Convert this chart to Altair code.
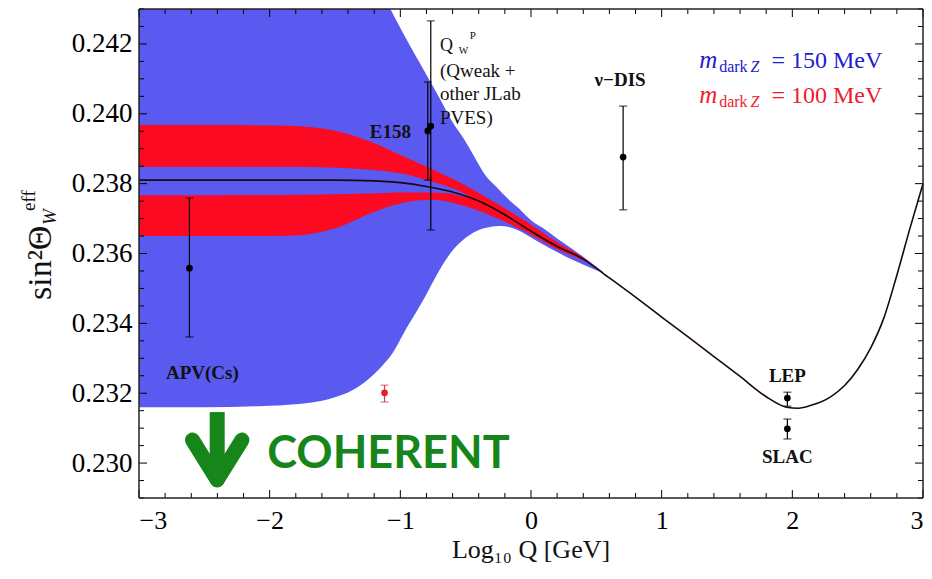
import altair as alt
import pandas as pd

# ---------------- data ----------------
# central (SM-like) running curve
line_x = [-3.0, -2.0, -1.5, -1.2, -1.0, -0.8, -0.6, -0.4, -0.2, 0.0, 0.2, 0.4, 0.6, 0.8,
          1.0, 1.2, 1.4, 1.6, 1.8, 1.955, 2.045, 2.15, 2.29, 2.40, 2.50, 2.60, 2.70, 2.80, 2.90, 3.0]
line_y = [0.23810, 0.23810, 0.23810, 0.23808, 0.23803, 0.23792, 0.23776, 0.23750, 0.23711,
          0.23664, 0.23620, 0.23584, 0.23530, 0.23475, 0.23418, 0.23362, 0.23305, 0.23248,
          0.23190, 0.23160, 0.23157, 0.23166, 0.23189, 0.23222, 0.23268, 0.23330, 0.23415,
          0.23538, 0.23672, 0.23800]

# m_darkZ = 150 MeV band (blue)
blue_x = [-3.0, -2.5, -2.08, -1.78, -1.55, -1.35, -1.30, -1.20, -1.10, -1.076, -0.95, -0.82,
          -0.70, -0.61, -0.50, -0.42, -0.36, -0.25, -0.20, -0.09, 0.0, 0.11, 0.2, 0.3, 0.42, 0.5, 0.55]
blue_hi = [0.2460, 0.2460, 0.2460, 0.2460, 0.2460, 0.2458, 0.2452, 0.2441, 0.24318, 0.24300,
           0.24211, 0.24125, 0.24045, 0.23982, 0.23920, 0.23868, 0.23830, 0.23785, 0.23765,
           0.23728, 0.23695, 0.23668, 0.23643, 0.23617, 0.23585, 0.23562, 0.23548]
blue_lo = [0.23160, 0.23160, 0.23163, 0.23169, 0.23183, 0.23212, 0.23224, 0.23255, 0.23295,
           0.23306, 0.23388, 0.23470, 0.23553, 0.23604, 0.23645, 0.23664, 0.23672, 0.23679,
           0.23678, 0.23665, 0.23646, 0.23622, 0.23604, 0.23585, 0.23565, 0.23552, 0.23545]

# m_darkZ = 100 MeV band (red), outer envelope
red_x = [-3.0, -2.5, -1.86, -1.49, -1.24, -0.98, -0.76, -0.5, -0.27, -0.04, 0.2, 0.4, 0.46]
red_hi = [0.23968, 0.23968, 0.23966, 0.23951, 0.23922, 0.23879, 0.23842, 0.23795, 0.23745,
          0.23692, 0.23632, 0.23588, 0.23570]
red_lo = [0.23650, 0.23650, 0.23651, 0.23673, 0.23713, 0.23745, 0.23754, 0.23735, 0.23702,
          0.23662, 0.23612, 0.23580, 0.23568]

# gap between the two red branches
gap_x = [-3.0, -2.5, -1.74, -1.24, -0.98, -0.78, -0.62, -0.576, -0.45]
gap_hi = [0.23848, 0.23848, 0.23848, 0.23840, 0.23828, 0.23808, 0.23790, 0.23784, 0.23758]
gap_lo = [0.23767, 0.23767, 0.23768, 0.23772, 0.23775, 0.23775, 0.23772, 0.23768, 0.23758]

# measurements
meas_name = ["APV(Cs)", "E158", "Qweak", "nu-DIS", "LEP", "SLAC"]
meas_x = [-2.614, -0.79, -0.767, 0.705, 1.962, 1.962]
meas_y = [0.23558, 0.23951, 0.23965, 0.23876, 0.23186, 0.23098]
meas_lo = [0.23361, 0.23810, 0.23667, 0.23725, 0.23163, 0.23069]
meas_hi = [0.23759, 0.24091, 0.24266, 0.24022, 0.23203, 0.23126]

coh_x = [-1.121]
coh_y = [0.23201]
coh_lo = [0.23175]
coh_hi = [0.23223]

# axis ticks
x_major = [-3, -2, -1, 0, 1, 2, 3]
y_major = [0.230, 0.232, 0.234, 0.236, 0.238, 0.240, 0.242]

# ---------------- styling ----------------
BLUE = "#5a5af0"
RED = "#fc0a22"
SERIF = "Liberation Serif"
XD = [-3, 3]
YD = [0.229, 0.243]
W, H = 784, 489

xs = alt.Scale(domain=XD, nice=False, zero=False)
ys = alt.Scale(domain=YD, nice=False, zero=False)

xaxis = alt.Axis(values=x_major, format="d", ticks=False, domain=False, grid=False,
                 labelFont=SERIF, labelFontSize=26, labelColor="black", labelPadding=9,
                 title=None)
yaxis = alt.Axis(values=y_major, format=".3f", ticks=False, domain=False, grid=False,
                 labelFont=SERIF, labelFontSize=27, labelColor="black", labelPadding=7,
                 title=None)


def X(f):
    return alt.X(f, type="quantitative", scale=xs, axis=xaxis)


def Y(f):
    return alt.Y(f, type="quantitative", scale=ys, axis=yaxis)


df_line = pd.DataFrame({"x": line_x, "y": line_y})
df_blue = pd.DataFrame({"x": blue_x, "hi": blue_hi, "lo": blue_lo})
df_red = pd.DataFrame({"x": red_x, "hi": red_hi, "lo": red_lo})
df_gap = pd.DataFrame({"x": gap_x, "hi": gap_hi, "lo": gap_lo})
df_meas = pd.DataFrame({"name": meas_name, "x": meas_x, "y": meas_y, "lo": meas_lo, "hi": meas_hi})
df_coh = pd.DataFrame({"x": coh_x, "y": coh_y, "lo": coh_lo, "hi": coh_hi})

blue = alt.Chart(df_blue).mark_area(color=BLUE, clip=True, interpolate="monotone").encode(
    x=X("x"), y=Y("hi"), y2=alt.Y2("lo"))
red = alt.Chart(df_red).mark_area(color=RED, clip=True, interpolate="monotone").encode(
    x=X("x"), y=Y("hi"), y2=alt.Y2("lo"))
gap = alt.Chart(df_gap).mark_area(color=BLUE, clip=True, interpolate="monotone").encode(
    x=X("x"), y=Y("hi"), y2=alt.Y2("lo"))
line = alt.Chart(df_line).mark_line(color="#1a0810", strokeWidth=1.6, interpolate="monotone").encode(
    x=X("x"), y=Y("y"))

# inward ticks on all four sides (lengths in data units)
ypx = (YD[1] - YD[0]) / H
xpx = (XD[1] - XD[0]) / W
x_minor = [round(-3 + 0.2 * i, 1) for i in range(31) if i % 5]
y_minor = [round(0.229 + 0.0005 * i, 4) for i in range(29) if round(0.229 + 0.0005 * i, 4) not in y_major]
tick_rows_x = []
for t in x_major + x_minor:
    L = 8 if t in x_major else 5
    tick_rows_x.append({"x": t, "y": YD[0], "y2": YD[0] + L * ypx})
    tick_rows_x.append({"x": t, "y": YD[1], "y2": YD[1] - L * ypx})
tick_rows_y = []
for t in y_major + y_minor:
    L = 8 if t in y_major else 5
    tick_rows_y.append({"y": t, "x": XD[0], "x2": XD[0] + L * xpx})
    tick_rows_y.append({"y": t, "x": XD[1], "x2": XD[1] - L * xpx})
ticks_x = alt.Chart(pd.DataFrame(tick_rows_x)).mark_rule(color="black", strokeWidth=1).encode(
    x=X("x"), y=Y("y"), y2=alt.Y2("y2"))
ticks_y = alt.Chart(pd.DataFrame(tick_rows_y)).mark_rule(color="black", strokeWidth=1).encode(
    y=Y("y"), x=X("x"), x2=alt.X2("x2"))

frame_v = alt.Chart(pd.DataFrame({"x": XD})).mark_rule(color="#222", strokeWidth=1.5).encode(
    x=X("x"), y=alt.value(0), y2=alt.value(H))
frame_h = alt.Chart(pd.DataFrame({"y": YD})).mark_rule(color="#222", strokeWidth=1.5).encode(
    y=Y("y"), x=alt.value(0), x2=alt.value(W))

bars = alt.Chart(df_meas).mark_rule(color="black", strokeWidth=1.2).encode(
    x=X("x"), y=Y("lo"), y2=alt.Y2("hi"))
cap_lo = alt.Chart(df_meas).mark_tick(color="black", size=8, thickness=1.2, orient="horizontal").encode(
    x=X("x"), y=Y("lo"))
cap_hi = alt.Chart(df_meas).mark_tick(color="black", size=8, thickness=1.2, orient="horizontal").encode(
    x=X("x"), y=Y("hi"))
pts = alt.Chart(df_meas).mark_circle(color="black", size=45, opacity=1).encode(x=X("x"), y=Y("y"))

cbar = alt.Chart(df_coh).mark_rule(color="#c8404a", strokeWidth=1.2).encode(
    x=X("x"), y=Y("lo"), y2=alt.Y2("hi"))
ccap_lo = alt.Chart(df_coh).mark_tick(color="#c8404a", size=8, thickness=1.2, orient="horizontal").encode(
    x=X("x"), y=Y("lo"))
ccap_hi = alt.Chart(df_coh).mark_tick(color="#c8404a", size=8, thickness=1.2, orient="horizontal").encode(
    x=X("x"), y=Y("hi"))
cpt = alt.Chart(df_coh).mark_circle(color="#ee1a2a", size=45, opacity=1).encode(x=X("x"), y=Y("y"))

# annotations
bold_df = pd.DataFrame({
    "t": ["APV(Cs)", "E158", "ν−DIS", "LEP", "SLAC"],
    "x": [-2.515, -1.076, 0.682, 1.962, 1.962],
    "y": [0.23258, 0.23948, 0.24097, 0.23249, 0.23017]})
bold_txt = alt.Chart(bold_df).mark_text(font=SERIF, fontSize=19, fontWeight="bold", color="#111",
                                        align="center", baseline="middle").encode(
    x=X("x"), y=Y("y"), text="t:N")

q_df = pd.DataFrame({"t": ["(Qweak +", "other JLab", "PVES)"],
                     "x": [-0.697, -0.697, -0.697],
                     "y": [0.24106, 0.24040, 0.23972]})
q_txt = alt.Chart(q_df).mark_text(font=SERIF, fontSize=19, color="#111", align="left",
                                  baseline="alphabetic").encode(x=X("x"), y=Y("y"), text="t:N")
qmain = alt.Chart(pd.DataFrame({"t": ["Q"], "x": [-0.697], "y": [0.24180]})).mark_text(
    font=SERIF, fontSize=18, color="#111", align="left", baseline="alphabetic").encode(
    x=X("x"), y=Y("y"), text="t:N")
qsub = alt.Chart(pd.DataFrame({"t": ["W"], "x": [-0.552], "y": [0.24172]})).mark_text(
    font=SERIF, fontSize=10, color="#111", align="left", baseline="alphabetic").encode(
    x=X("x"), y=Y("y"), text="t:N")
qsup = alt.Chart(pd.DataFrame({"t": ["P"], "x": [-0.468], "y": [0.24215]})).mark_text(
    font=SERIF, fontSize=11, color="#111", align="left", baseline="alphabetic").encode(
    x=X("x"), y=Y("y"), text="t:N")

LEGC = alt.Scale(domain=["b", "r"], range=["#2020cc", "#ee1c30"])
leg_m = alt.Chart(pd.DataFrame({"t": ["m", "m"], "x": [1.288, 1.288], "y": [0.24131, 0.24031],
                                "c": ["b", "r"]})).mark_text(
    font=SERIF, fontSize=25, fontStyle="italic", align="left", baseline="alphabetic").encode(
    x=X("x"), y=Y("y"), text="t:N", color=alt.Color("c:N", scale=LEGC, legend=None))
leg_sub = alt.Chart(pd.DataFrame({"t": ["dark", "dark"], "x": [1.44, 1.44], "y": [0.24120, 0.24020],
                                  "c": ["b", "r"]})).mark_text(
    font=SERIF, fontSize=16, align="left", baseline="alphabetic").encode(
    x=X("x"), y=Y("y"), text="t:N", color=alt.Color("c:N", scale=LEGC, legend=None))
leg_z = alt.Chart(pd.DataFrame({"t": ["Z", "Z"], "x": [1.68, 1.68], "y": [0.24120, 0.24020],
                                "c": ["b", "r"]})).mark_text(
    font=SERIF, fontSize=16, fontStyle="italic", align="left", baseline="alphabetic").encode(
    x=X("x"), y=Y("y"), text="t:N", color=alt.Color("c:N", scale=LEGC, legend=None))
leg_val = alt.Chart(pd.DataFrame({"t": ["= 150 MeV", "= 100 MeV"], "x": [1.84, 1.84],
                                  "y": [0.24131, 0.24031], "c": ["b", "r"]})).mark_text(
    font=SERIF, fontSize=24, align="left", baseline="alphabetic").encode(
    x=X("x"), y=Y("y"), text="t:N", color=alt.Color("c:N", scale=LEGC, legend=None))

GREEN = "#16861a"
coh_txt = alt.Chart(pd.DataFrame({"t": ["COHERENT"], "x": [-1.091], "y": [0.22986]})).mark_text(
    font="Lato", fontSize=45, fontWeight="bold", color=GREEN, align="center",
    baseline="alphabetic").encode(x=X("x"), y=Y("y"), text="t:N")

# green down arrow
arrow_shaft = alt.Chart(pd.DataFrame({"x": [-2.4015], "y": [0.23146], "y2": [0.22975]})).mark_rule(
    color=GREEN, strokeWidth=15).encode(x=X("x"), y=Y("y"), y2=alt.Y2("y2"))
arrow_head = alt.Chart(pd.DataFrame({"x": [-2.591, -2.212], "x2": [-2.4015, -2.4015],
                                     "y": [0.23066, 0.23066], "y2": [0.22952, 0.22952]})).mark_rule(
    color=GREEN, strokeWidth=15, strokeCap="round").encode(
    x=X("x"), x2=alt.X2("x2"), y=Y("y"), y2=alt.Y2("y2"))

# axis titles (pixel positions relative to the plot area)
xtitle = alt.Chart(pd.DataFrame({"t": ["Log₁₀ Q [GeV]"]})).mark_text(
    font=SERIF, fontSize=26, align="center", baseline="alphabetic", color="#111").encode(
    x=alt.value(W / 2), y=alt.value(549), text="t:N")
ytitle = alt.Chart(pd.DataFrame({"t": ["sin²Θ"]})).mark_text(
    font=SERIF, fontSize=34, angle=270, align="left", baseline="alphabetic", color="#111").encode(
    x=alt.value(-88), y=alt.value(291), text="t:N")
ytitle_sub = alt.Chart(pd.DataFrame({"t": ["W"]})).mark_text(
    font=SERIF, fontSize=19, fontStyle="italic", angle=270, align="left", baseline="alphabetic",
    color="#111").encode(x=alt.value(-83), y=alt.value(216), text="t:N")
ytitle_sup = alt.Chart(pd.DataFrame({"t": ["eff"]})).mark_text(
    font=SERIF, fontSize=19, angle=270, align="left", baseline="alphabetic", color="#111").encode(
    x=alt.value(-104), y=alt.value(202), text="t:N")

chart = alt.layer(
    blue, red, gap, line,
    arrow_shaft, arrow_head, coh_txt,
    bars, cap_lo, cap_hi, pts,
    cbar, ccap_lo, ccap_hi, cpt,
    bold_txt, q_txt, qmain, qsub, qsup,
    leg_m, leg_sub, leg_z, leg_val,
    ticks_x, ticks_y, frame_v, frame_h,
    xtitle, ytitle, ytitle_sub, ytitle_sup,
).properties(
    width=W, height=H,
    padding={"left": 131, "top": 1, "right": 1, "bottom": 68},
    autosize=alt.AutoSizeParams(type="none"),
    background="white",
).configure_view(stroke=None)

chart.save("out.html", embed_options={"renderer": "svg", "actions": False})
